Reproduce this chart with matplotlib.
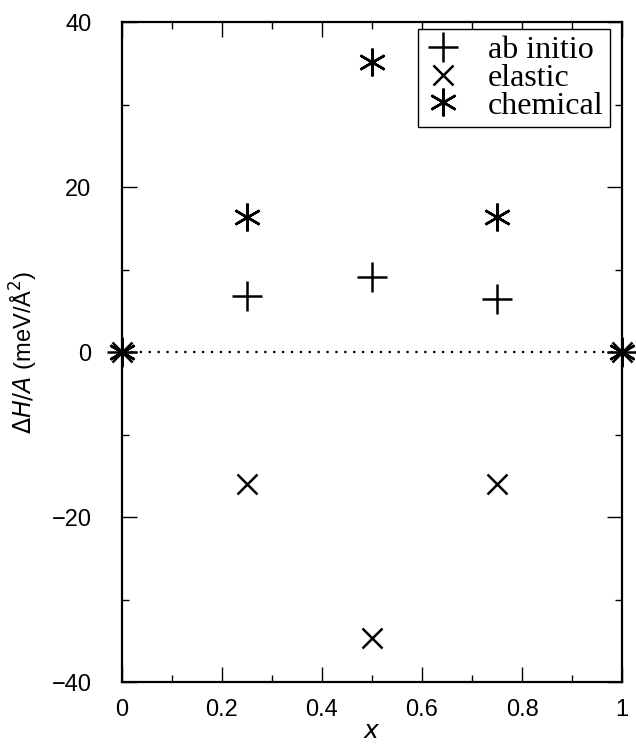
import matplotlib
matplotlib.use('Agg')
import matplotlib.pyplot as plt
from matplotlib.ticker import MultipleLocator

x = [0, 0.25, 0.5, 0.75, 1]
ab_initio = [0, 6.8, 9.1, 6.4, 0]
elastic = [0, -16.0, -34.7, -16.0, 0]
chemical = [0, 16.4, 35.2, 16.4, 0]

plt.rcParams['font.family'] = 'Liberation Sans'

fig = plt.figure(figsize=(6.36, 7.47), dpi=100)
ax = fig.add_axes([0.1918, 0.087, 0.7862, 0.8835])

ax.plot([0, 1], [0, 0], color='black', linestyle=(0, (1, 3)), linewidth=1.6)

ax.plot(x, ab_initio, linestyle='none', marker='+', markersize=22,
        markeredgewidth=1.8, color='black', clip_on=False, label='ab initio')
ax.plot(x, elastic, linestyle='none', marker='x', markersize=15,
        markeredgewidth=1.8, color='black', clip_on=False, label='elastic')
ax.plot(x, chemical, linestyle='none', marker=(6, 2, 0), markersize=20,
        markeredgewidth=1.8, color='black', clip_on=False, label='chemical')

ax.set_xlim(0, 1)
ax.set_ylim(-40, 40)
ax.xaxis.set_major_locator(MultipleLocator(0.2))
ax.xaxis.set_minor_locator(MultipleLocator(0.1))
ax.yaxis.set_major_locator(MultipleLocator(20))
ax.yaxis.set_minor_locator(MultipleLocator(10))
ax.set_xticks([0, 0.2, 0.4, 0.6, 0.8, 1])
ax.set_xticklabels(['0', '0.2', '0.4', '0.6', '0.8', '1'])

ax.tick_params(which='both', direction='in', top=True, right=True,
               labelsize=17, width=1)
ax.tick_params(which='major', length=11)
ax.tick_params(which='minor', length=5)
ax.tick_params(axis='y', pad=22)
ax.tick_params(axis='x', pad=12)
for s in ax.spines.values():
    s.set_linewidth(1.6)

ax.set_xlabel('$x$', fontsize=18, labelpad=-1)
ax.set_ylabel(r'$\Delta H/A$ (meV/Å$^2$)', fontsize=17, labelpad=8)

leg = ax.legend(loc='upper right', bbox_to_anchor=(0.976, 0.989),
                borderaxespad=0, fancybox=False, edgecolor='black',
                framealpha=1, handlelength=1.2, handletextpad=0.8,
                labelspacing=-0.05, borderpad=0.2,
                prop={'family': 'Liberation Serif', 'size': 23})
leg.get_frame().set_linewidth(1.0)

fig.savefig('out.png', dpi=100)
